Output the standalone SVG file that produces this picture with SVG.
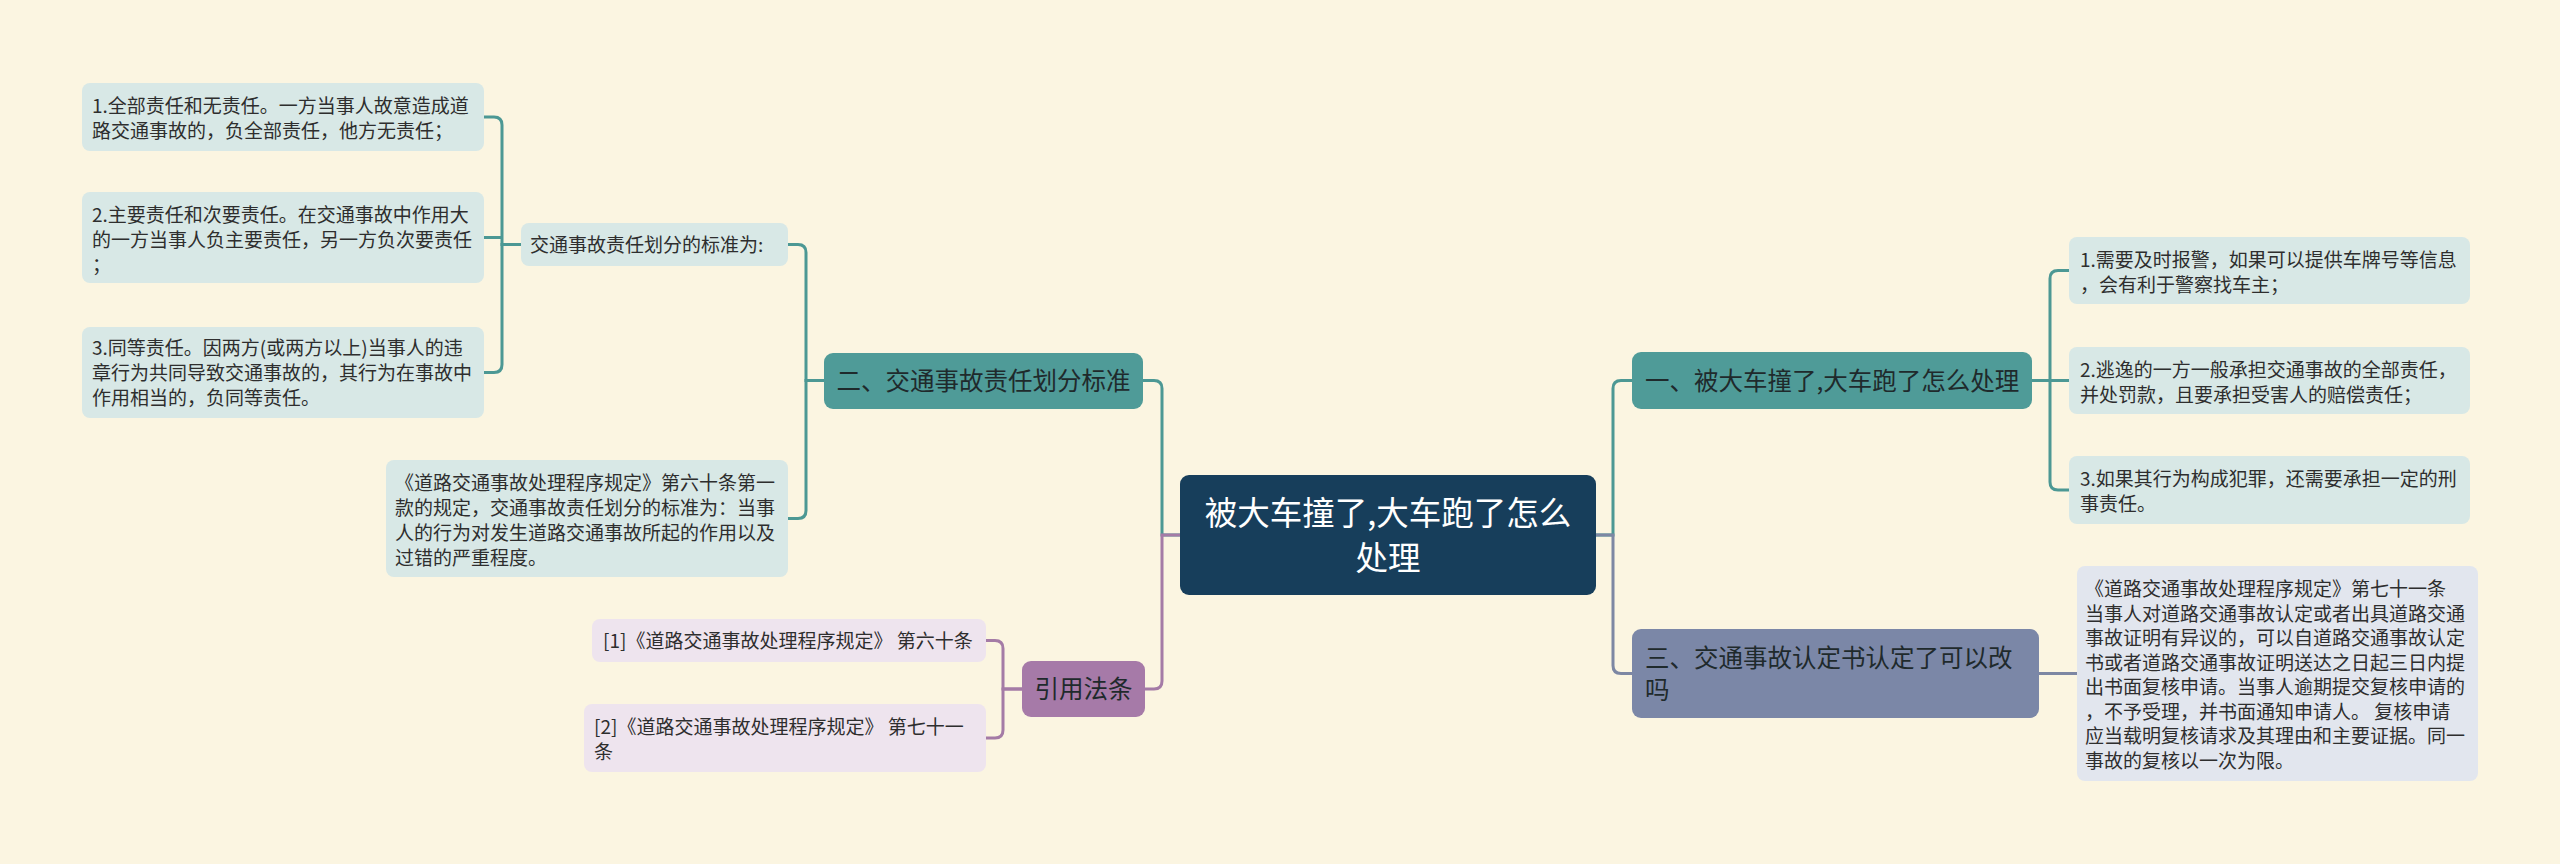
<svg xmlns="http://www.w3.org/2000/svg" width="2560" height="864" viewBox="0 0 2560 864">
<style>
.t{font-family:"Noto Sans CJK SC","Noto Sans",sans-serif;}
.leaf{font-size:19px;fill:#2e2e2e;}
.br{font-size:24.5px;fill:#1f2a2c;}
.ct{font-size:32.5px;fill:#ffffff;}
.lt{fill:#d8e8e6;}
.lb{fill:#e2e6ee;}
.lp{fill:#eee4ee;}
.c{fill:none;stroke-width:3;}
.ct1{stroke:#4c9894;}
.cb{stroke:#7d87a3;}
.cp{stroke:#a47ba6;}
</style>
<rect width="2560" height="864" fill="#fbf5e1"/>
<g id="connectors">
<path class="c ct1" d="M1180,535 H1162 V388.5 Q1162,380.5 1154,380.5 H1143"/>
<path class="c ct1" d="M1596,535 H1613 V388.5 Q1613,380.5 1621,380.5 H1632"/>
<path class="c cp" d="M1180,535 H1162 V681 Q1162,689 1154,689 H1145"/>
<path class="c cb" d="M1596,535 H1613 V665.5 Q1613,673.5 1621,673.5 H1632"/>
<path class="c ct1" d="M824,380.5 H806 V252.5 Q806,244.5 798,244.5 H787"/>
<path class="c ct1" d="M824,380.5 H806 V510.5 Q806,518.5 798,518.5 H788"/>
<path class="c ct1" d="M521,244.5 H502 V125 Q502,117 494,117 H484"/>
<path class="c ct1" d="M502,237.5 H484"/>
<path class="c ct1" d="M521,244.5 H502 V364.5 Q502,372.5 494,372.5 H484"/>
<path class="c ct1" d="M2032,380.5 H2050 V278.5 Q2050,270.5 2058,270.5 H2069"/>
<path class="c ct1" d="M2032,380.5 H2069"/>
<path class="c ct1" d="M2032,380.5 H2050 V482 Q2050,490 2058,490 H2069"/>
<path class="c cb" d="M2039,673.5 H2077"/>
<path class="c cp" d="M1022,689 H1003 V648.5 Q1003,640.5 995,640.5 H986"/>
<path class="c cp" d="M1022,689 H1003 V730 Q1003,738 995,738 H986"/>
</g>
<g id="root">
<rect x="1180" y="475" width="416" height="120" rx="9" fill="#173e5b"/>
<text class="t ct" x="1388" y="525" text-anchor="middle">被大车撞了,大车跑了怎么</text>
<text class="t ct" x="1388" y="570" text-anchor="middle">处理</text>
</g>
<g id="b1">
<rect x="1632" y="352" width="400" height="57" rx="9" fill="#4f9b98"/>
<text class="t br" x="1645" y="389.5">一、被大车撞了,大车跑了怎么处理</text>
</g>
<g id="b2">
<rect x="824" y="353" width="319" height="56" rx="9" fill="#4f9b98"/>
<text class="t br" x="983.5" y="389.5" text-anchor="middle">二、交通事故责任划分标准</text>
</g>
<g id="b3">
<rect x="1632" y="629" width="407" height="89" rx="9" fill="#7b87a7"/>
<text class="t br" x="1645" y="667">三、交通事故认定书认定了可以改</text>
<text class="t br" x="1645" y="699">吗</text>
</g>
<g id="b4">
<rect x="1022" y="661" width="123" height="56" rx="9" fill="#a67aa8"/>
<text class="t br" x="1083.5" y="698" text-anchor="middle">引用法条</text>
</g>
<g id="std">
<rect x="521" y="223" width="267" height="43" rx="8" class="lt"/>
<text class="t leaf" x="530" y="252">交通事故责任划分的标准为:</text>
</g>
<g id="a1">
<rect x="82" y="83" width="402" height="68" rx="8" class="lt"/>
<text class="t leaf" x="92" y="112.5">1.全部责任和无责任。一方当事人故意造成道</text>
<text class="t leaf" x="92" y="137.5">路交通事故的，负全部责任，他方无责任；</text>
</g>
<g id="a2">
<rect x="82" y="192" width="402" height="91" rx="8" class="lt"/>
<text class="t leaf" x="92" y="222">2.主要责任和次要责任。在交通事故中作用大</text>
<text class="t leaf" x="92" y="247">的一方当事人负主要责任，另一方负次要责任</text>
<text class="t leaf" x="92" y="272">；</text>
</g>
<g id="a3">
<rect x="82" y="327" width="402" height="91" rx="8" class="lt"/>
<text class="t leaf" x="92" y="355">3.同等责任。因两方(或两方以上)当事人的违</text>
<text class="t leaf" x="92" y="380">章行为共同导致交通事故的，其行为在事故中</text>
<text class="t leaf" x="92" y="405">作用相当的，负同等责任。</text>
</g>
<g id="d1">
<rect x="386" y="460" width="402" height="117" rx="8" class="lt"/>
<text class="t leaf" x="395" y="490">《道路交通事故处理程序规定》第六十条第一</text>
<text class="t leaf" x="395" y="515">款的规定，交通事故责任划分的标准为：当事</text>
<text class="t leaf" x="395" y="540">人的行为对发生道路交通事故所起的作用以及</text>
<text class="t leaf" x="395" y="565">过错的严重程度。</text>
</g>
<g id="r1">
<rect x="2069" y="237" width="401" height="67" rx="8" class="lt"/>
<text class="t leaf" x="2080" y="266.5">1.需要及时报警，如果可以提供车牌号等信息</text>
<text class="t leaf" x="2080" y="291.5">，会有利于警察找车主；</text>
</g>
<g id="r2">
<rect x="2069" y="347" width="401" height="67" rx="8" class="lt"/>
<text class="t leaf" x="2080" y="376.5">2.逃逸的一方一般承担交通事故的全部责任，</text>
<text class="t leaf" x="2080" y="401.5">并处罚款，且要承担受害人的赔偿责任；</text>
</g>
<g id="r3">
<rect x="2069" y="456" width="401" height="68" rx="8" class="lt"/>
<text class="t leaf" x="2080" y="485.5">3.如果其行为构成犯罪，还需要承担一定的刑</text>
<text class="t leaf" x="2080" y="510.5">事责任。</text>
</g>
<g id="r4">
<rect x="2077" y="566" width="401" height="215" rx="8" class="lb"/>
<text class="t leaf" x="2085" y="596">《道路交通事故处理程序规定》第七十一条</text>
<text class="t leaf" x="2085" y="620.5">当事人对道路交通事故认定或者出具道路交通</text>
<text class="t leaf" x="2085" y="645">事故证明有异议的，可以自道路交通事故认定</text>
<text class="t leaf" x="2085" y="669.5">书或者道路交通事故证明送达之日起三日内提</text>
<text class="t leaf" x="2085" y="694">出书面复核申请。当事人逾期提交复核申请的</text>
<text class="t leaf" x="2085" y="718.5">，不予受理，并书面通知申请人。 复核申请</text>
<text class="t leaf" x="2085" y="743">应当载明复核请求及其理由和主要证据。同一</text>
<text class="t leaf" x="2085" y="767.5">事故的复核以一次为限。</text>
</g>
<g id="l1">
<rect x="592" y="619" width="394" height="43" rx="8" class="lp"/>
<text class="t leaf" x="603" y="647.5">[1]《道路交通事故处理程序规定》 第六十条</text>
</g>
<g id="l2">
<rect x="584" y="704" width="402" height="68" rx="8" class="lp"/>
<text class="t leaf" x="594" y="733.5">[2]《道路交通事故处理程序规定》 第七十一</text>
<text class="t leaf" x="594" y="758.5">条</text>
</g>
</svg>
